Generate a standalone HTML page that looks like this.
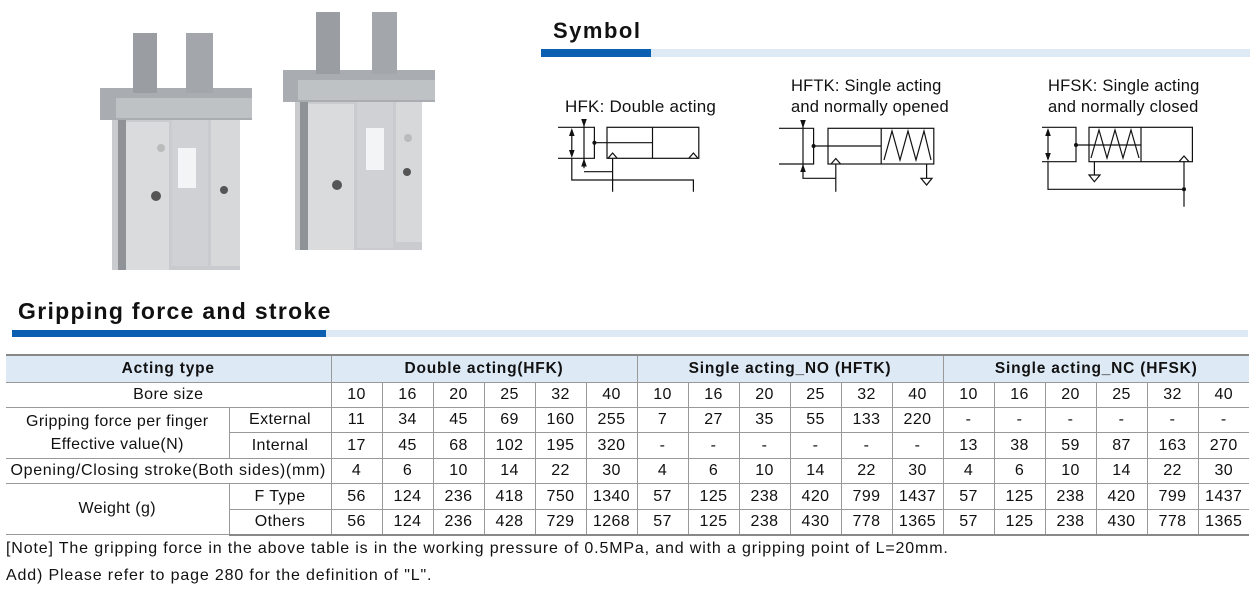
<!DOCTYPE html>
<html><head><meta charset="utf-8"><style>
body{margin:0;width:1252px;height:591px;background:#fff;position:relative;overflow:hidden;font-family:"Liberation Sans",sans-serif;color:#111}
.t{position:absolute;white-space:nowrap}
table{position:absolute;left:6px;top:354px;border-collapse:collapse;table-layout:fixed;font-size:16px;letter-spacing:0.4px}
td{border:1px solid #999;text-align:center;padding:0;white-space:nowrap;overflow:hidden}
tr td:first-child{border-left:none}
tr td:last-child{border-right:none}
tr.h td{background:#dde9f5;font-weight:bold;font-size:15.5px;letter-spacing:0.8px;height:26px;border-top:2px solid #888}
tr.last td{border-bottom:2px solid #888}
</style></head><body>
<svg width="1252" height="591" style="position:absolute;left:0;top:0">
<rect x="541" y="49" width="110" height="8" fill="#0a5fb0"/><rect x="651" y="49" width="599" height="8" fill="#dde9f5"/>
<rect x="12" y="330" width="314" height="7" fill="#0a5fb0"/><rect x="326" y="330" width="922" height="7" fill="#dde9f5"/>
<g>
<rect x="112" y="118" width="128" height="152" fill="#c9cbce"/>
<rect x="118" y="120" width="8" height="150" fill="#8f9296"/>
<rect x="126" y="122" width="43" height="148" fill="#d9dbdd"/><rect x="172" y="120" width="36" height="146" fill="#cfd1d4"/><rect x="211" y="120" width="29" height="146" fill="#d6d8da"/>
<rect x="100" y="88" width="152" height="32" fill="#a9acb0"/><rect x="116" y="98" width="136" height="20" fill="#bfc2c5"/>
<rect x="133" y="33" width="24" height="60" fill="#9a9da1"/><rect x="186" y="33" width="27" height="60" fill="#a3a6aa"/>
<rect x="178" y="148" width="18" height="40" fill="#f2f4f6"/>
<circle cx="161" cy="148" r="4" fill="#bbb"/><circle cx="156" cy="196" r="5" fill="#555"/><circle cx="224" cy="190" r="4" fill="#555"/>
</g>
<g>
<rect x="295" y="100" width="127" height="150" fill="#c9cbce"/>
<rect x="300" y="102" width="8" height="148" fill="#8f9296"/>
<rect x="308" y="104" width="46" height="146" fill="#d9dbdd"/><rect x="357" y="102" width="36" height="146" fill="#cfd1d4"/><rect x="396" y="102" width="26" height="140" fill="#d6d8da"/>
<rect x="283" y="70" width="152" height="32" fill="#a9acb0"/><rect x="298" y="80" width="137" height="20" fill="#bfc2c5"/>
<rect x="316" y="12" width="24" height="62" fill="#9a9da1"/><rect x="372" y="12" width="25" height="62" fill="#a3a6aa"/>
<rect x="366" y="128" width="18" height="42" fill="#f2f4f6"/>
<circle cx="408" cy="138" r="4" fill="#bbb"/><circle cx="337" cy="185" r="5" fill="#555"/><circle cx="407" cy="172" r="4" fill="#555"/>
</g>
<g stroke="#111" stroke-width="1.2" fill="none">
<path d="M558 127.3H594.4V158.3H558M571.8 130V156M584 121.7V168.3M594.4 142.7H652.5M612.6 158.3V191.7M584 171.7H612.6M571.8 158.3V180H693.4V191.7"/>
<rect x="607" y="127.3" width="91.8" height="31"/><path d="M652.5 127.3V158.3"/>
<path d="M608 158.3L612.6 153L617.2 158.3M688.8 158.3L693.4 153L698 158.3"/>
<path d="M779 128.3H813.6V164H779M803 121.7V178.3H835.8V191.7M813.6 146H881.2M835.8 164V178.3"/>
<rect x="828" y="128.3" width="105.8" height="35.7"/><path d="M881.2 128.3V164M884 160L892 131L900 160L908 131L916 160L924 131L931 160M926.6 164V178.3M921 178.3H932L926.6 185Z"/>
<path d="M831 164L835.8 158.5L840.6 164"/>
<path d="M1042 127.3H1076V161.7H1042M1048 130V159M1076 145H1141M1048 161.7V189.3H1184M1184 161.7V206.7M1094.4 161.7V175M1089 175H1100L1094.4 181.7Z"/>
<rect x="1089" y="127.3" width="103.4" height="34.4"/><path d="M1141 127.3V161.7M1091 158L1099 130L1107 158L1115 130L1123 158L1131 130L1139 158"/>
<path d="M1179 161.7L1184 156L1189 161.7"/>
</g>
<g fill="#111">
<circle cx="594.4" cy="142.7" r="2"/><circle cx="813.6" cy="146" r="2"/><circle cx="1076" cy="145" r="2"/><circle cx="1184" cy="189.3" r="2"/>
<path d="M571.8 128L569 136H574.6ZM571.8 158L569 150H574.6ZM584 127L581.2 119H586.8ZM584 158.5L581.2 166.5H586.8Z"/>
<path d="M803 128.3L800.2 120H805.8ZM803 164L800.2 172H805.8Z"/>
<path d="M1048 128L1045.2 136H1050.8ZM1048 161L1045.2 153H1050.8Z"/>
</g>
</svg>
<div class="t" style="left:553px;top:18px;font-size:22px;font-weight:bold;letter-spacing:1.5px">Symbol</div>
<div class="t" style="left:565px;top:97px;font-size:17px;letter-spacing:0.2px">HFK: Double acting</div>
<div class="t" style="left:791px;top:76px;font-size:16.5px;line-height:21px;letter-spacing:0.2px">HFTK: Single acting<br>and normally opened</div>
<div class="t" style="left:1048px;top:76px;font-size:16.5px;line-height:21px;letter-spacing:0.2px">HFSK: Single acting<br>and normally closed</div>
<div class="t" style="left:18px;top:298px;font-size:23px;font-weight:bold;letter-spacing:1.3px">Gripping force and stroke</div>
<table>
<colgroup><col style="width:223px"><col style="width:102px"><col span="18" style="width:51px"></colgroup>
<tr class="h"><td colspan="2">Acting type</td><td colspan="6">Double acting(HFK)</td><td colspan="6">Single acting_NO (HFTK)</td><td colspan="6">Single acting_NC (HFSK)</td></tr>
<tr style="height:25px"><td colspan="2">Bore size</td><td>10</td><td>16</td><td>20</td><td>25</td><td>32</td><td>40</td><td>10</td><td>16</td><td>20</td><td>25</td><td>32</td><td>40</td><td>10</td><td>16</td><td>20</td><td>25</td><td>32</td><td>40</td></tr>
<tr style="height:25px"><td rowspan="2" style="line-height:23px">Gripping force per finger<br>Effective value(N)</td><td>External</td><td>11</td><td>34</td><td>45</td><td>69</td><td>160</td><td>255</td><td>7</td><td>27</td><td>35</td><td>55</td><td>133</td><td>220</td><td>-</td><td>-</td><td>-</td><td>-</td><td>-</td><td>-</td></tr>
<tr style="height:26px"><td>Internal</td><td>17</td><td>45</td><td>68</td><td>102</td><td>195</td><td>320</td><td>-</td><td>-</td><td>-</td><td>-</td><td>-</td><td>-</td><td>13</td><td>38</td><td>59</td><td>87</td><td>163</td><td>270</td></tr>
<tr style="height:25px"><td colspan="2" style="letter-spacing:0.7px">Opening/Closing stroke(Both sides)(mm)</td><td>4</td><td>6</td><td>10</td><td>14</td><td>22</td><td>30</td><td>4</td><td>6</td><td>10</td><td>14</td><td>22</td><td>30</td><td>4</td><td>6</td><td>10</td><td>14</td><td>22</td><td>30</td></tr>
<tr style="height:26px"><td rowspan="2">Weight (g)</td><td>F Type</td><td>56</td><td>124</td><td>236</td><td>418</td><td>750</td><td>1340</td><td>57</td><td>125</td><td>238</td><td>420</td><td>799</td><td>1437</td><td>57</td><td>125</td><td>238</td><td>420</td><td>799</td><td>1437</td></tr>
<tr class="last" style="height:25px"><td>Others</td><td>56</td><td>124</td><td>236</td><td>428</td><td>729</td><td>1268</td><td>57</td><td>125</td><td>238</td><td>430</td><td>778</td><td>1365</td><td>57</td><td>125</td><td>238</td><td>430</td><td>778</td><td>1365</td></tr>
</table>
<div class="t" style="left:6px;top:540px;font-size:16px;letter-spacing:0.85px">[Note] The gripping force in the above table is in the working pressure of 0.5MPa, and with a gripping point of L=20mm.</div>
<div class="t" style="left:6px;top:567px;font-size:16px;letter-spacing:0.85px">Add) Please refer to page 280 for the definition of "L".</div>
</body></html>
